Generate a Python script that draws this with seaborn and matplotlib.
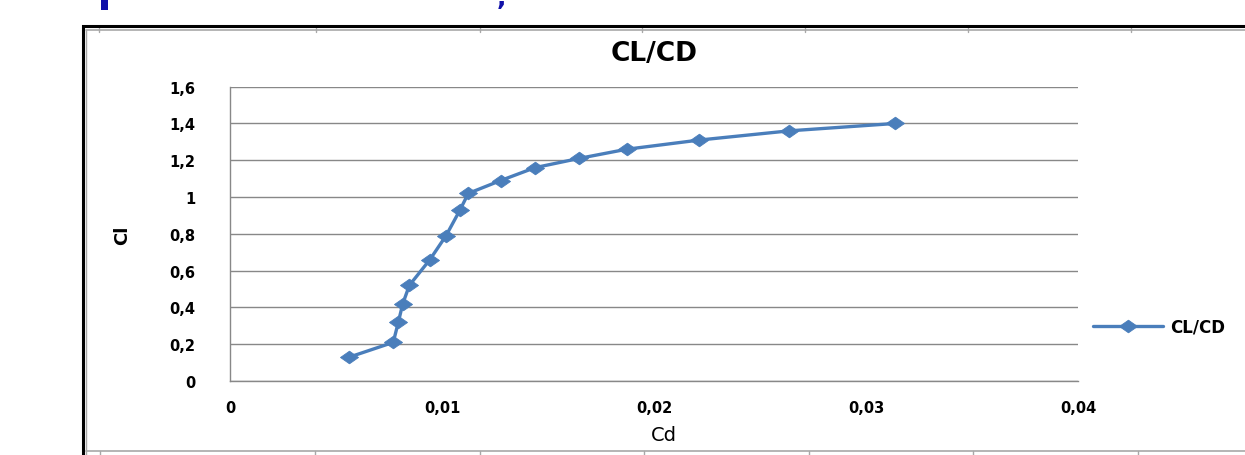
import matplotlib
matplotlib.use("Agg")
import matplotlib.pyplot as plt
from matplotlib.lines import Line2D
from matplotlib.patches import Rectangle
from matplotlib.markers import MarkerStyle
from matplotlib.path import Path
from matplotlib.ticker import FuncFormatter
import seaborn as sns
import pandas as pd

# Drag polar: lift coefficient against drag coefficient
cd = [0.00563, 0.00770, 0.00794, 0.00815, 0.00846, 0.00943, 0.01019, 0.01085,
      0.01124, 0.01277, 0.01439, 0.01646, 0.01871, 0.02214, 0.02638, 0.03137]
cl = [0.13, 0.21, 0.32, 0.42, 0.52, 0.66, 0.79, 0.93,
      1.02, 1.09, 1.16, 1.21, 1.26, 1.31, 1.36, 1.40]
series_name = "CL/CD"
chart_title = "CL/CD"
x_label = "Cd"
y_label = "Cl"
x_ticks = [0, 0.01, 0.02, 0.03, 0.04]
y_ticks = [0, 0.2, 0.4, 0.6, 0.8, 1.0, 1.2, 1.4, 1.6]

df = pd.DataFrame({"Cd": cd, "Cl": cl})

sns.set_style("white")
plt.rcParams["font.family"] = ["DejaVu Sans"]
plt.rcParams["text.color"] = "black"
plt.rcParams["axes.labelcolor"] = "black"

W, H = 1245, 456
fig = plt.figure(figsize=(W / 100, H / 100), dpi=100)
fig.patch.set_facecolor("white")


def fx(px):
    return px / W


def fy(py):
    return 1 - py / H


ax = fig.add_axes([fx(230), fy(382), fx(1078) - fx(230), fy(87.7) - fy(382)])
ax.set_facecolor("white")

blue = "#4A7EBB"
grid_c = "#888888"

diamond = MarkerStyle(Path([(-1, 0), (0, 0.7), (1, 0), (0, -0.7), (-1, 0)],
                           [Path.MOVETO, Path.LINETO, Path.LINETO, Path.LINETO, Path.CLOSEPOLY]))

sns.lineplot(data=df, x="Cd", y="Cl", sort=False, estimator=None, ax=ax,
             color=blue, linewidth=2.4, marker=diamond, markersize=13,
             markeredgecolor=blue, markerfacecolor=blue, markeredgewidth=0.6,
             label=series_name)

ax.set_xlim(0, 0.04)
ax.set_ylim(0, 1.6)
ax.set_xticks(x_ticks)
ax.set_yticks(y_ticks)


def comma_fmt(v, pos):
    return f"{round(v, 4):g}".replace(".", ",")


ax.xaxis.set_major_formatter(FuncFormatter(comma_fmt))
ax.yaxis.set_major_formatter(FuncFormatter(comma_fmt))

ax.grid(axis="y", color=grid_c, linewidth=1.0)
ax.grid(axis="x", visible=False)
ax.set_axisbelow(True)

for s in ["top", "right"]:
    ax.spines[s].set_visible(False)
for s in ["left", "bottom"]:
    ax.spines[s].set_color(grid_c)
    ax.spines[s].set_linewidth(1.0)

ax.tick_params(axis="y", direction="out", length=9, width=1.0, color=grid_c,
               pad=16, labelsize=10.5, labelcolor="black")
ax.tick_params(axis="x", direction="out", length=4, width=1.0, color=grid_c,
               pad=10, labelsize=10.5, labelcolor="black")
for lab in ax.get_xticklabels() + ax.get_yticklabels():
    lab.set_fontweight("bold")

ax.set_title(chart_title, fontsize=19, fontweight="bold", pad=19, color="black")
ax.set_xlabel(x_label, fontsize=14)
ax.xaxis.set_label_coords(0.512, -0.148)
ax.set_ylabel(y_label, fontsize=13, fontweight="bold")
ax.yaxis.set_label_coords(-0.117, 0.5)

ax.legend(loc="center left", bbox_to_anchor=(fx(1093), fy(328)),
          bbox_transform=fig.transFigure, frameon=False, borderpad=0,
          borderaxespad=0, handlelength=4.2, handletextpad=0.45,
          prop={"size": 12, "weight": "bold"})

# Chart area border and the surrounding page rules
fig.patches.append(Rectangle((fx(83), fy(470)), fx(1300) - fx(83), fy(27) - fy(470),
                             transform=fig.transFigure, fill=False,
                             edgecolor="black", linewidth=2.2, zorder=5))
rule_c = "#a8a8a8"
fig.lines.append(Line2D([fx(86), 1], [fy(31), fy(31)], transform=fig.transFigure,
                        color=rule_c, linewidth=1.2))
fig.lines.append(Line2D([fx(86), fx(86)], [fy(31), 0], transform=fig.transFigure,
                        color=rule_c, linewidth=1.0))
fig.lines.append(Line2D([fx(86), 1], [fy(452), fy(452)], transform=fig.transFigure,
                        color=rule_c, linewidth=1.2))
for tx in [99, 316, 480, 642, 805, 968, 1131]:
    fig.lines.append(Line2D([fx(tx), fx(tx)], [fy(28.5), fy(33)],
                            transform=fig.transFigure, color=rule_c, linewidth=1.0))
for tx in [100, 315, 480, 644, 809, 973, 1138]:
    fig.lines.append(Line2D([fx(tx), fx(tx)], [fy(452), fy(457)],
                            transform=fig.transFigure, color=rule_c, linewidth=1.0))

# Heading line above the chart: a glyph stem and a comma at the top edge
heading_c = "#1010A8"
fig.patches.append(Rectangle((fx(101), fy(11)), fx(7), 11 / H,
                             transform=fig.transFigure, facecolor=heading_c,
                             edgecolor="none"))
fig.text(fx(497), fy(5), ",", color=heading_c, fontsize=18, fontweight="bold",
         ha="left", va="baseline")

fig.savefig("out.png", dpi=100, facecolor="white")
